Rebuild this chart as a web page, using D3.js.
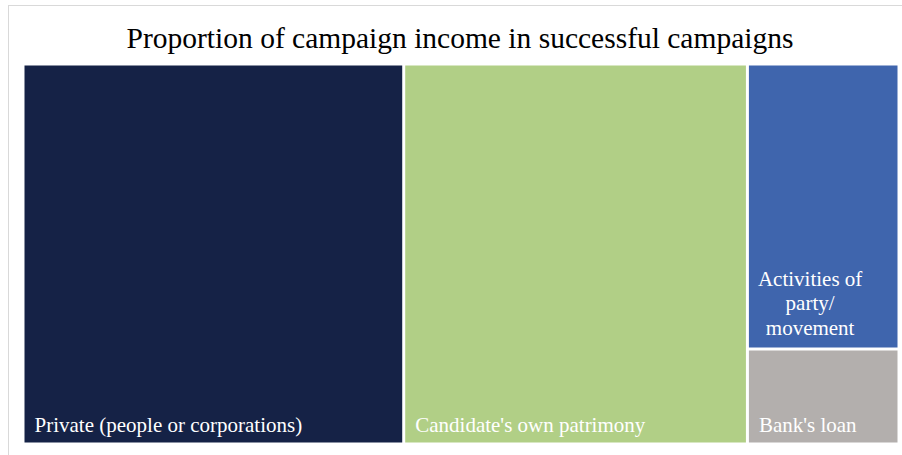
<!DOCTYPE html>
<html>
<head>
<meta charset="utf-8">
<script src="https://cdn.jsdelivr.net/npm/d3@7"></script>
<style>
  body { margin: 0; background: #ffffff; }
  svg text { font-family: "Liberation Serif", "Times New Roman", serif; }
</style>
</head>
<body>
<div id="chart"></div>
<script>
'use strict';

// values (share of campaign income, %)
let categories = [
    "Private (people or corporations)",
    "Candidate's own patrimony",
    "Activities of party/ movement",
    "Bank's loan"];
let shares = [43.2, 39.0, 12.9, 4.3];
let colors = ["#152246", "#b1cf86", "#3f65ad", "#b3afad"];
// how each label wraps in the picture
let labelLines = [
    ["Private (people or corporations)"],
    ["Candidate's own patrimony"],
    ["Activities of", "party/", "movement"],
    ["Bank's loan"]];

const width = 902, height = 455;
const plot = {x0: 23, y0: 64, x1: 899, y1: 444};

let svg = d3.select("#chart").append("svg")
    .attr("width", width)
    .attr("height", height);

// light outer frame (cut off at right / bottom like the picture)
svg.append("rect")
    .attr("x", 8.5).attr("y", 5.5)
    .attr("width", 1000).attr("height", 1000)
    .attr("fill", "none")
    .attr("stroke", "#d9d9d9")
    .attr("stroke-width", 1);

svg.append("text")
    .attr("x", 460)
    .attr("y", 48)
    .attr("text-anchor", "middle")
    .attr("font-size", 29.5)
    .attr("fill", "#000")
    .text("Proportion of campaign income in successful campaigns");

let root = d3.hierarchy({children: categories.map((c, i) => ({name: c, value: shares[i], idx: i}))})
    .sum(d => d.value || 0)
    .sort((a, b) => b.value - a.value);

d3.treemap()
    .tile(d3.treemapSquarify.ratio(1))
    .size([plot.x1 - plot.x0, plot.y1 - plot.y0])
    .paddingInner(3)
    .paddingOuter(1.5)(root);

let cells = svg.append("g")
    .attr("transform", `translate(${plot.x0},${plot.y0})`)
    .selectAll("g")
    .data(root.leaves())
    .enter()
    .append("g")
    .attr("transform", d => `translate(${d.x0},${d.y0})`);

cells.append("rect")
    .attr("width", d => d.x1 - d.x0)
    .attr("height", d => d.y1 - d.y0)
    .attr("fill", d => colors[d.data.idx]);

const lineH = 24.5;
cells.each(function(d) {
    let g = d3.select(this);
    let lines = labelLines[d.data.idx];
    let h = d.y1 - d.y0;
    let t = g.append("text")
        .attr("font-size", 21)
        .attr("fill", "#ffffff");
    let bottom = lines.length > 1 ? 13 : 11;
    lines.forEach((ln, i) => {
        t.append("tspan")
            .attr("x", 0)
            .attr("y", h - bottom - (lines.length - 1 - i) * lineH)
            .text(ln);
    });
    if (lines.length > 1) {
        // wrapped label: lines centered within the label block
        let widths = [];
        t.selectAll("tspan").each(function() { widths.push(this.getComputedTextLength()); });
        let maxW = d3.max(widths);
        t.attr("text-anchor", "middle");
        t.selectAll("tspan").attr("x", 9 + maxW / 2);
    } else {
        t.selectAll("tspan").attr("x", 10);
    }
});
</script>
</body>
</html>
